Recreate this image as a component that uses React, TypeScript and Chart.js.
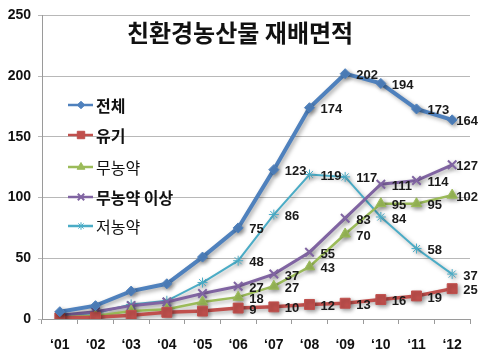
import React, { useEffect, useRef } from "react";
import { Chart, registerables } from "chart.js";
import { drawPoint } from "chart.js/helpers";

Chart.register(...registerables);

const categories = ["‘01", "‘02", "‘03", "‘04", "‘05", "‘06", "‘07", "‘08", "‘09", "‘10", "‘11", "‘12"];
const totalValues = [6, 11, 23, 29, 51, 75, 123, 174, 202, 194, 173, 164];
const organicValues = [1, 1.5, 3, 5.5, 6.5, 9, 10, 12, 13, 16, 19, 25];
const noPesticideValues = [1.5, 2.5, 6.5, 8, 14, 18, 27, 43, 70, 95, 95, 102];
const noPesticidePlusValues = [3, 6, 11, 14, 21, 27, 37, 55, 83, 111, 114, 127];
const lowPesticideValues = [3, 5, 12, 15, 30, 48, 86, 119, 117, 84, 58, 37];
const yTicks = [0, 50, 100, 150, 200, 250];
const chartTitle = "친환경농산물 재배면적";
const labelFrom = 5;

const seriesNames = ["전체", "유기", "무농약", "무농약 이상", "저농약"];

const KFONT = '"Noto Sans CJK KR", "Noto Sans", sans-serif';
const NFONT = '"Liberation Sans", Arial, sans-serif';

export default function App() {
  const ref = useRef<HTMLCanvasElement | null>(null);

  useEffect(() => {
    document.body.style.margin = "0";
    const canvas = ref.current;
    if (!canvas) return;

    const styles = [
      { color: "#4F81BD", width: 4, point: "rectRot", radius: 5, pbw: 1, bold: true },
      { color: "#C0504D", width: 3.5, point: "rect", radius: 7, pbw: 1, bold: true },
      { color: "#9BBB59", width: 2.5, point: "triangle", radius: 6, pbw: 1, bold: false },
      { color: "#8064A2", width: 3, point: "crossRot", radius: 6, pbw: 2, bold: true },
      { color: "#4BACC6", width: 2, point: "star", radius: 5, pbw: 1, bold: false },
    ];
    const values = [totalValues, organicValues, noPesticideValues, noPesticidePlusValues, lowPesticideValues];

    const shadowPlugin = {
      id: "shadow",
      beforeDatasetDraw(chart: any) {
        const ctx = chart.ctx;
        ctx.save();
        ctx.shadowColor = "rgba(0,0,0,0.35)";
        ctx.shadowBlur = 4;
        ctx.shadowOffsetX = 2;
        ctx.shadowOffsetY = 2;
      },
      afterDatasetDraw(chart: any) {
        chart.ctx.restore();
      },
    };

    const overlayPlugin = {
      id: "overlay",
      afterDraw(chart: any) {
        const ctx = chart.ctx as CanvasRenderingContext2D;
        ctx.save();
        // title
        ctx.fillStyle = "#111";
        ctx.font = `bold 24px ${KFONT}`;
        ctx.textAlign = "center";
        ctx.textBaseline = "middle";
        ctx.fillText(chartTitle, 240, 33);

        // legend
        const rows = [105, 135, 167, 197, 226];
        chart.data.datasets.forEach((ds: any, i: number) => {
          const y = rows[i];
          const st = styles[i];
          ctx.strokeStyle = st.color;
          ctx.lineWidth = 2.5;
          ctx.beginPath();
          ctx.moveTo(68, y);
          ctx.lineTo(93, y);
          ctx.stroke();
          ctx.fillStyle = st.color;
          ctx.strokeStyle = st.color;
          ctx.lineWidth = st.pbw;
          drawPoint(ctx, {
            pointStyle: st.point,
            radius: st.radius * 0.75,
            borderWidth: st.pbw,
            rotation: 0,
          } as any, 81, y);
          ctx.fillStyle = "#111";
          ctx.font = `${st.bold ? "bold " : ""}16px ${KFONT}`;
          ctx.textAlign = "left";
          ctx.textBaseline = "middle";
          ctx.fillText(ds.label, 96, y + 1);
        });

        // data labels
        ctx.font = `bold 13px ${NFONT}`;
        ctx.fillStyle = "#1a1a1a";
        ctx.textAlign = "left";
        ctx.textBaseline = "middle";
        chart.data.datasets.forEach((ds: any, i: number) => {
          const meta = chart.getDatasetMeta(i);
          meta.data.forEach((pt: any, j: number) => {
            if (j < labelFrom) return;
            const txt = String(ds.data[j]);
            const w = ctx.measureText(txt).width;
            let x = pt.x + 11;
            if (x + w > 478) x = 478 - w;
            ctx.fillText(txt, x, pt.y + 2);
          });
        });
        ctx.restore();
      },
    };

    const chart = new Chart(canvas, {
      type: "line",
      data: {
        labels: categories,
        datasets: values.map((v, i) => ({
          label: seriesNames[i],
          data: v,
          borderColor: styles[i].color,
          backgroundColor: styles[i].color,
          borderWidth: styles[i].width,
          pointStyle: styles[i].point as any,
          pointRadius: styles[i].radius,
          pointBorderWidth: styles[i].pbw,
          pointBackgroundColor: styles[i].color,
          pointBorderColor: styles[i].color,
          tension: 0,
          fill: false,
        })),
      },
      options: {
        animation: false,
        responsive: false,
        maintainAspectRatio: false,
        layout: { padding: { top: 11, right: 10, left: 0, bottom: 0 } },
        plugins: {
          legend: { display: false },
          title: { display: false },
          tooltip: { enabled: false },
        },
        scales: {
          x: {
            type: "category",
            offset: true,
            grid: {
              offset: true,
              drawOnChartArea: false,
              drawTicks: true,
              tickLength: 5,
              color: "#9a9a9a",
            },
            border: { display: true, color: "#9a9a9a", width: 1 },
            ticks: {
              color: "#111",
              font: { family: NFONT, size: 14, weight: "bold" },
              padding: 13,
              maxRotation: 0,
              autoSkip: false,
            },
            afterFit(scale: any) {
              scale.height = 44;
            },
          },
          y: {
            min: 0,
            max: 250,
            afterBuildTicks(scale: any) {
              scale.ticks = yTicks.map((v) => ({ value: v }));
            },
            grid: {
              color: "#b8b8b8",
              drawTicks: true,
              tickLength: 4,
            },
            border: { display: true, color: "#9a9a9a", width: 1 },
            ticks: {
              color: "#111",
              font: { family: NFONT, size: 14, weight: "bold" },
              padding: 7,
            },
            afterFit(scale: any) {
              scale.width = 42;
            },
          },
        },
      },
      plugins: [shadowPlugin, overlayPlugin],
    });

    return () => chart.destroy();
  }, []);

  return (
    <div style={{ width: 480, height: 363, background: "#fff" }}>
      <canvas ref={ref} width={480} height={363} style={{ display: "block" }} />
    </div>
  );
}
